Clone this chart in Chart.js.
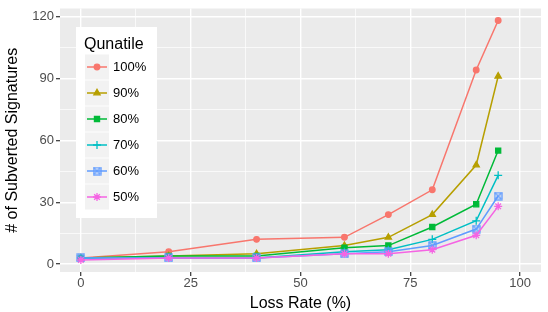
<!DOCTYPE html>
<html>
<head>
<meta charset="utf-8">
<script src="https://cdn.jsdelivr.net/npm/chart.js@4/dist/chart.umd.min.js"></script>
<style>
  body { margin: 0; background: #fff; }
  canvas { display: block; }
</style>
</head>
<body>
<canvas id="chart" width="548" height="312"></canvas>
<script>
// data
const lossRate = [0, 20, 40, 60, 70, 80, 90, 95];
const quantiles = ['100%', '90%', '80%', '70%', '60%', '50%'];
const q100 = [3, 6, 12, 13, 24, 36, 94, 118];
const q90 = [3, 4, 5, 9, 13, 24, 48, 91];
const q80 = [3, 4, 4, 8, 9, 18, 29, 55];
const q70 = [3, 3, 3, 6, 7, 12, 21, 43];
const q60 = [3, 3, 3, 5, 6, 9, 17, 33];
const q50 = [2, 3, 3, 5, 5, 7, 14, 28];
const xTicks = [0, 25, 50, 75, 100];
const yTicks = [0, 30, 60, 90, 120];

const colors = ['#F8766D', '#B79F00', '#00BA38', '#00BFC4', '#619CFF', '#F564E3'];

// ggplot shape 7: hollow square with an x inside
function squareCross(color) {
    const c = document.createElement('canvas');
    c.width = 9;
    c.height = 9;
    const g = c.getContext('2d');
    g.strokeStyle = color;
    g.lineWidth = 1.3;
    g.strokeRect(1, 1, 7, 7);
    g.beginPath();
    g.moveTo(1, 1); g.lineTo(8, 8);
    g.moveTo(8, 1); g.lineTo(1, 8);
    g.stroke();
    return c;
}

const styles = [
    {pointStyle: 'circle', radius: 2.8},
    {pointStyle: 'triangle', radius: 3.6},
    {pointStyle: 'rect', radius: 3.6},
    {pointStyle: 'cross', radius: 4},
    {pointStyle: squareCross(colors[4]), radius: 4.5},
    {pointStyle: 'star', radius: 4}
];

const series = [q100, q90, q80, q70, q60, q50];

const datasets = series.map((vals, i) => ({
    label: quantiles[i],
    data: vals.map((v, j) => ({x: lossRate[j], y: v})),
    borderColor: colors[i],
    backgroundColor: colors[i],
    borderWidth: 1.5,
    pointStyle: styles[i].pointStyle,
    pointRadius: styles[i].radius,
    pointBorderWidth: 1.3,
    order: series.length - i,
    tension: 0
}));

function withMinors(major) {
    const out = [];
    for (let i = 0; i < major.length; i++) {
        out.push(major[i]);
        if (i < major.length - 1) out.push((major[i] + major[i + 1]) / 2);
    }
    return out;
}

const isMajor = (list) => (ctx) => ctx.tick && list.includes(ctx.tick.value);

const panelBg = {
    id: 'panelBg',
    beforeDraw(chart) {
        const {ctx, chartArea: a} = chart;
        ctx.save();
        ctx.fillStyle = '#EBEBEB';
        ctx.fillRect(a.left, a.top, a.right - a.left, a.bottom - a.top);
        ctx.restore();
    }
};

const ggLegend = {
    id: 'ggLegend',
    afterDraw(chart) {
        const ctx = chart.ctx;
        ctx.save();
        ctx.fillStyle = '#ffffff';
        ctx.fillRect(76, 27, 81, 191);
        ctx.fillStyle = '#000000';
        ctx.font = '16px "Liberation Sans", Arial, sans-serif';
        ctx.textBaseline = 'alphabetic';
        ctx.fillText('Qunatile', 84, 48.5);
        chart.data.datasets.forEach((ds, i) => {
            const cy = 67 + 26 * i;
            ctx.fillStyle = '#F2F2F2';
            ctx.fillRect(85, cy - 12.5, 24, 25);
            ctx.strokeStyle = ds.borderColor;
            ctx.lineWidth = ds.borderWidth;
            ctx.beginPath();
            ctx.moveTo(87, cy);
            ctx.lineTo(107, cy);
            ctx.stroke();
            ctx.fillStyle = ds.backgroundColor;
            ctx.lineWidth = ds.pointBorderWidth;
            if (Chart.helpers && Chart.helpers.drawPoint) {
                Chart.helpers.drawPoint(ctx, {
                    pointStyle: ds.pointStyle,
                    radius: ds.pointRadius,
                    rotation: 0,
                    borderWidth: ds.pointBorderWidth
                }, 97, cy);
            }
            ctx.fillStyle = '#000000';
            ctx.font = '13px "Liberation Sans", Arial, sans-serif';
            ctx.textBaseline = 'middle';
            ctx.fillText(ds.label, 113, cy + 0.5);
        });
        ctx.restore();
    }
};

const tickFont = {family: '"Liberation Sans", Arial, sans-serif', size: 13, lineHeight: 1};
const titleFont = {family: '"Liberation Sans", Arial, sans-serif', size: 16, lineHeight: 1};

new Chart(document.getElementById('chart'), {
    type: 'line',
    data: {datasets: datasets},
    plugins: [panelBg, ggLegend],
    options: {
        responsive: false,
        animation: false,
        events: [],
        layout: {padding: {top: 4.4, right: 7, left: 0, bottom: 0}},
        plugins: {
            legend: {display: false},
            tooltip: {enabled: false}
        },
        scales: {
            x: {
                type: 'linear',
                min: -4.75,
                max: 104.75,
                afterBuildTicks: (s) => { s.ticks = withMinors(xTicks).map(v => ({value: v})); },
                afterFit: (s) => { s.height = 40; },
                border: {display: false},
                grid: {
                    color: '#ffffff',
                    lineWidth: (c) => isMajor(xTicks)(c) ? 1.4 : 0.7,
                    tickColor: (c) => isMajor(xTicks)(c) ? '#333333' : 'rgba(0,0,0,0)',
                    tickLength: 4,
                    tickWidth: 1.2
                },
                ticks: {
                    autoSkip: false,
                    maxRotation: 0,
                    padding: 1,
                    color: '#4D4D4D',
                    font: tickFont,
                    callback: (v) => xTicks.includes(v) ? String(v) : ''
                },
                title: {
                    display: true,
                    text: 'Loss Rate (%)',
                    color: '#000000',
                    font: titleFont,
                    padding: {top: 0, bottom: 0}
                }
            },
            y: {
                type: 'linear',
                min: -3.8,
                max: 123.8,
                afterBuildTicks: (s) => { s.ticks = withMinors(yTicks).map(v => ({value: v})); },
                afterFit: (s) => { s.width = 60; },
                border: {display: false},
                grid: {
                    color: '#ffffff',
                    lineWidth: (c) => isMajor(yTicks)(c) ? 1.4 : 0.7,
                    tickColor: (c) => isMajor(yTicks)(c) ? '#333333' : 'rgba(0,0,0,0)',
                    tickLength: 4,
                    tickWidth: 1.2
                },
                ticks: {
                    autoSkip: false,
                    padding: 2,
                    color: '#4D4D4D',
                    font: tickFont,
                    callback: (v) => yTicks.includes(v) ? String(v) : ''
                },
                title: {
                    display: true,
                    text: '# of Subverted Signatures',
                    color: '#000000',
                    font: titleFont,
                    padding: {top: 5, bottom: 0}
                }
            }
        }
    }
});
</script>
</body>
</html>
